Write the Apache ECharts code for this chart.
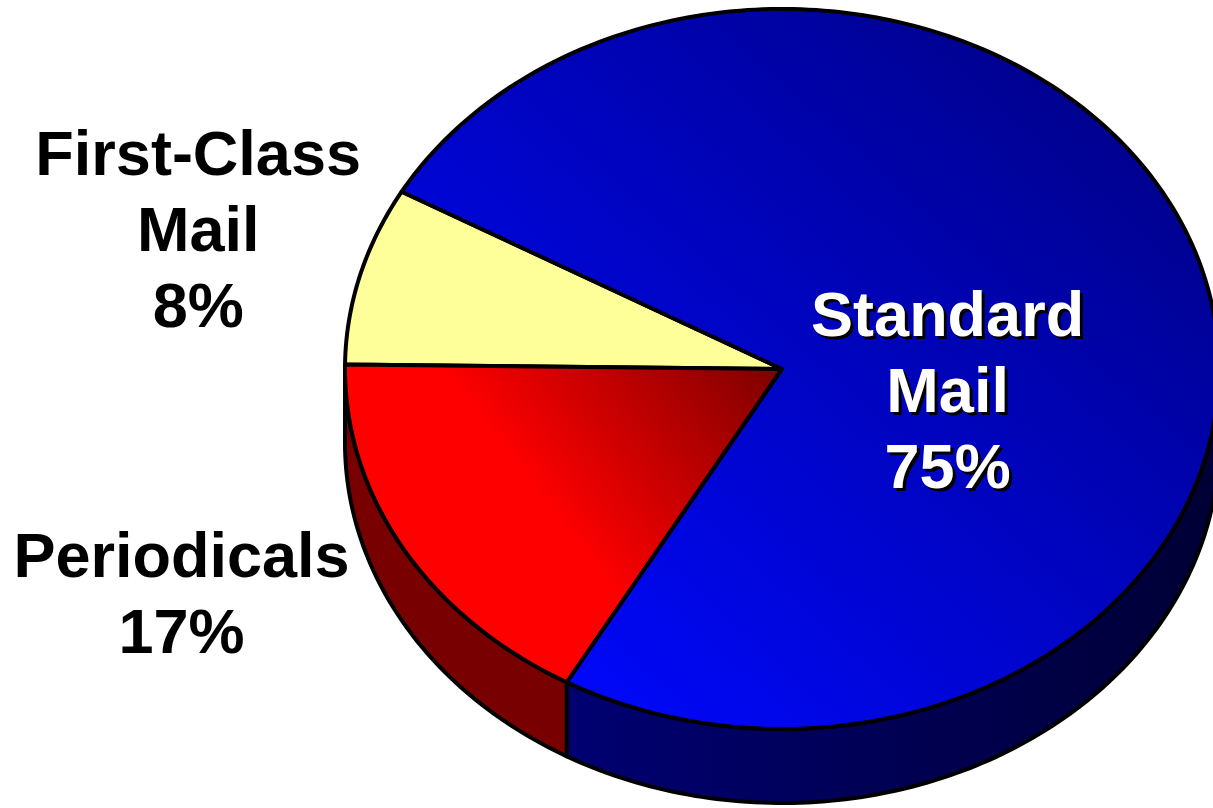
<!DOCTYPE html>
<html>
<head>
<meta charset="utf-8">
<title>Mail volume share</title>
<script src="https://cdn.jsdelivr.net/npm/echarts@6/dist/echarts.min.js"></script>
<style>
  html, body { margin: 0; padding: 0; background: #ffffff; }
  #chart { width: 1213px; height: 808px; }
</style>
</head>
<body>
<div id="chart"></div>
<script>
// Mail classes and their share of volume (percent)
const categories = ['First-Class\nMail', 'Periodicals', 'Standard\nMail'];
const shares = [8, 17, 75];

// Label placement, in units of the pie's horizontal / vertical radius from its centre
const labelOffsets = [[-1.336, -0.375], [-1.374, 0.635], [0.379, 0.072]];

const chart = echarts.init(document.getElementById('chart'), null, { renderer: 'canvas' });

// Tilted-disc geometry
const geo = {
  cx: 782, cy: 369,
  rx: 437, ry: 360,
  depth: 74,
  startAngle: 150.5 // degrees, counter-clockwise from east
};

const total = shares.reduce((a, b) => a + b, 0);

function pt(deg, drop) {
  const t = deg * Math.PI / 180;
  return [geo.cx + geo.rx * Math.cos(t), geo.cy - geo.ry * Math.sin(t) + (drop || 0)];
}

function arc(a0, a1, drop) {
  const pts = [];
  const n = Math.max(2, Math.ceil(Math.abs(a1 - a0) / 1));
  for (let k = 0; k <= n; k++) pts.push(pt(a0 + (a1 - a0) * k / n, drop));
  return pts;
}

const G = echarts.graphic.LinearGradient;
const faceFill = [
  '#ffff99',
  new G(350, 700, 782, 368, [
    { offset: 0, color: '#ff0000' },
    { offset: 0.5, color: '#ff0000' },
    { offset: 1, color: '#7c0000' }
  ], true),
  new G(560, 740, 1213, 10, [
    { offset: 0, color: '#0008ff' },
    { offset: 1, color: '#00007a' }
  ], true)
];
const wallFill = [
  '#7a0000',
  '#780000',
  new G(563, 0, 1213, 0, [
    { offset: 0, color: '#000072' },
    { offset: 1, color: '#000036' }
  ], true)
];
const labelColor = ['#000000', '#000000', '#ffffff'];

function labelText(str, x, y, fill) {
  return {
    type: 'text',
    z2: 10,
    style: {
      text: str,
      x: x,
      y: y,
      fill: fill,
      fontFamily: '"Liberation Sans", Arial, sans-serif',
      fontWeight: 'bold',
      fontSize: 63,
      lineHeight: 76,
      align: 'center',
      verticalAlign: 'middle'
    }
  };
}

function renderSlice(params, api) {
  const i = params.dataIndex;
  const value = api.value(0);
  let before = 0;
  for (let k = 0; k < i; k++) before += shares[k];
  const a0 = geo.startAngle + before / total * 360;
  const a1 = a0 + value / total * 360;

  const children = [];
  const stroke = { stroke: '#000000', lineWidth: 4, lineJoin: 'round' };

  // side wall where the slice faces the viewer (lower half of the disc)
  [-360, 0, 360].forEach(function (off) {
    const lo = Math.max(a0, 180 + off);
    const hi = Math.min(a1, 360 + off);
    if (hi > lo) {
      const top = arc(lo, hi, 0);
      const bottom = arc(hi, lo, geo.depth);
      children.push({
        type: 'polygon',
        shape: { points: top.concat(bottom) },
        style: Object.assign({ fill: wallFill[i] }, stroke)
      });
    }
  });

  // top face
  children.push({
    type: 'polygon',
    shape: { points: [[geo.cx, geo.cy]].concat(arc(a0, a1, 0)) },
    style: Object.assign({ fill: faceFill[i] }, stroke)
  });

  // label: percent under the class name; the inside label gets a dark drop shadow
  const off = labelOffsets[i];
  const lx = geo.cx + off[0] * geo.rx;
  const ly = geo.cy + off[1] * geo.ry;
  const str = categories[i] + '\n' + value + '%';
  if (i === 2) children.push(labelText(str, lx + 3, ly + 3, '#000000'));
  children.push(labelText(str, lx, ly, labelColor[i]));

  return { type: 'group', children: children };
}

chart.setOption({
  backgroundColor: '#ffffff',
  animation: false,
  series: [{
    type: 'custom',
    coordinateSystem: 'none',
    renderItem: renderSlice,
    data: shares.map(function (v, i) { return { name: categories[i], value: [v] }; })
  }]
});
</script>
</body>
</html>
